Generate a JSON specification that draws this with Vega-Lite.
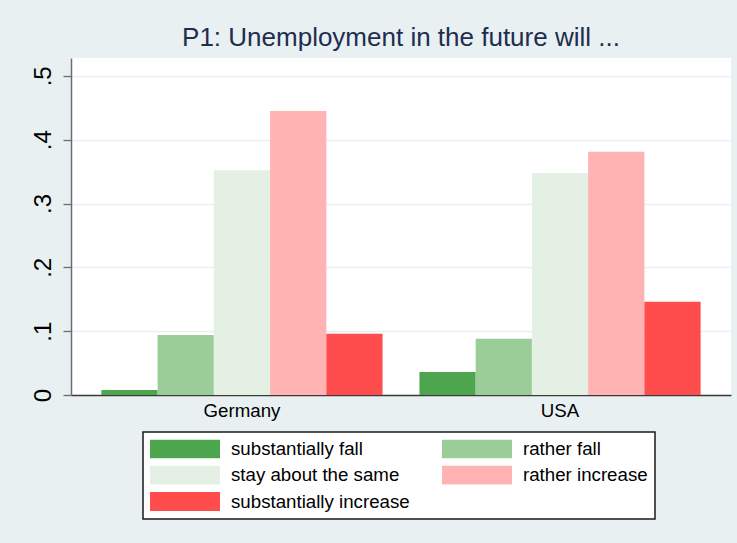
{
  "$schema": "https://vega.github.io/schema/vega-lite/v6.json",
  "width": 660,
  "height": 337,
  "autosize": {"type": "none"},
  "padding": {"left": 71, "top": 58, "right": 6, "bottom": 148},
  "background": "#e8f0f2",
  "config": {
    "font": "Liberation Sans",
    "view": {"fill": "#ffffff", "stroke": null}
  },
  "title": {
    "text": "P1: Unemployment in the future will ...",
    "fontSize": 26,
    "fontWeight": "normal",
    "color": "#1e2d50",
    "anchor": "middle",
    "baseline": "alphabetic",
    "offset": 11,
    "dy": 25
  },
  "data": {
    "values": [
      {"country": "Germany", "answer": "substantially fall", "share": 0.008},
      {"country": "Germany", "answer": "rather fall", "share": 0.094},
      {"country": "Germany", "answer": "stay about the same", "share": 0.352},
      {"country": "Germany", "answer": "rather increase", "share": 0.445},
      {"country": "Germany", "answer": "substantially increase", "share": 0.096},
      {"country": "USA", "answer": "substantially fall", "share": 0.036},
      {"country": "USA", "answer": "rather fall", "share": 0.088},
      {"country": "USA", "answer": "stay about the same", "share": 0.348},
      {"country": "USA", "answer": "rather increase", "share": 0.381},
      {"country": "USA", "answer": "substantially increase", "share": 0.146}
    ]
  },
  "mark": {"type": "bar", "strokeWidth": 0},
  "encoding": {
    "x": {
      "field": "country",
      "type": "nominal",
      "scale": {"paddingInner": 0.116, "paddingOuter": 0.0955},
      "axis": {
        "title": null,
        "labelAngle": 0,
        "labelFontSize": 18.7,
        "labelColor": "#000000",
        "labelPadding": 6,
        "ticks": false,
        "domainColor": "#3a3a3a",
        "domainWidth": 1.6,
        "grid": false
      }
    },
    "xOffset": {
      "field": "answer",
      "type": "nominal",
      "sort": ["substantially fall", "rather fall", "stay about the same", "rather increase", "substantially increase"],
      "scale": {"paddingInner": 0, "paddingOuter": 0}
    },
    "y": {
      "field": "share",
      "type": "quantitative",
      "scale": {"domain": [0, 0.528], "nice": false, "zero": true},
      "axis": {
        "title": null,
        "values": [0, 0.1, 0.2, 0.3, 0.4, 0.5],
        "labelExpr": "datum.value == 0 ? '0' : replace(format(datum.value, '.1f'), '0.', '.')",
        "labelAngle": -90,
        "labelAlign": "center",
        "labelBaseline": "alphabetic",
        "labelFontSize": 24,
        "labelColor": "#000000",
        "labelPadding": 13,
        "tickSize": 8,
        "tickColor": "#6e6e6e",
        "tickWidth": 1.3,
        "domainColor": "#6e6e6e",
        "domainWidth": 1.5,
        "gridColor": "#e8f0f2",
        "gridWidth": 1.5
      }
    },
    "color": {
      "field": "answer",
      "type": "nominal",
      "sort": ["substantially fall", "rather fall", "stay about the same", "rather increase", "substantially increase"],
      "scale": {
        "domain": ["substantially fall", "rather fall", "stay about the same", "rather increase", "substantially increase"],
        "range": ["#4da64d", "#9bcd99", "#e5f0e5", "#ffb3b3", "#ff4d4d"]
      },
      "legend": {
        "title": null,
        "orient": "none",
        "legendX": 72,
        "legendY": 374,
        "columns": 2,
        "direction": "horizontal",
        "columnPadding": 32,
        "rowPadding": 6.5,
        "padding": 7,
        "fillColor": "#ffffff",
        "strokeColor": "#1a1a1a",
        "symbolType": "M-1,-0.2714L1,-0.2714L1,0.2714L-1,0.2714Z",
        "symbolSize": 4900,
        "symbolStrokeWidth": 0,
        "symbolOpacity": 1,
        "clipHeight": 19,
        "labelFontSize": 18.7,
        "labelColor": "#000000",
        "labelOffset": 11,
        "labelLimit": 400,
        "encode": {"legend": {"update": {"strokeWidth": {"value": 1.5}}}}
      }
    }
  }
}
